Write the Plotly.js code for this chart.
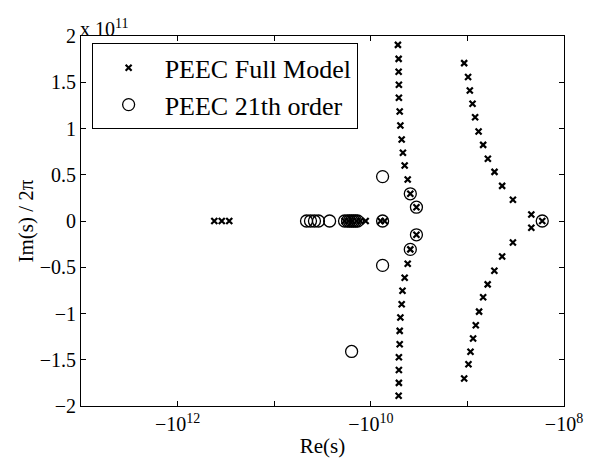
<!DOCTYPE html>
<html>
<head>
<meta charset="utf-8">
<script src="https://cdn.plot.ly/plotly-3.0.1.min.js"></script>
<style>html,body{margin:0;padding:0;background:#fff;}#chart{width:597px;height:459px;}</style>
</head>
<body>
<div id="chart"></div>
<script>
// PEEC full model poles: Re(s) and Im(s)/2π
const fullRe = [
  -4.17e11, -3.49e11, -2.92e11,
  -1.87e10, -1.70e10, -1.55e10, -1.40e10, -1.28e10, -1.13e10, -7.91e9, -7.19e9,
  -5.24e9, -5.15e9, -5.15e9, -5.12e9, -5.12e9, -5.02e9, -4.94e9, -4.79e9, -4.65e9, -4.46e9, -4.15e9, -3.90e9, -3.37e9,
  -3.37e9, -3.90e9, -4.15e9, -4.46e9, -4.70e9, -4.79e9, -4.94e9, -5.02e9, -5.02e9, -5.12e9, -5.12e9, -5.12e9, -5.15e9,
  -1.08e9, -9.84e8, -9.44e8, -8.85e8, -8.32e8, -7.66e8, -6.87e8, -6.14e8, -5.24e8, -4.37e8, -3.38e8, -2.18e8,
  -1.68e8,
  -2.18e8, -3.38e8, -4.37e8, -5.26e8, -6.17e8, -6.87e8, -7.57e8, -8.19e8, -8.73e8, -9.29e8, -9.75e8, -1.08e9
];
const fullIm = [
  0, 0, 0,
  0, 0, 0, 0, 0, 0, 0, 0,
  1.904e11, 1.753e11, 1.613e11, 1.473e11, 1.333e11, 1.184e11, 1.032e11, 0.881e11, 0.737e11, 0.599e11, 0.448e11, 0.294e11, 0.149e11,
  -0.149e11, -0.307e11, -0.463e11, -0.614e11, -0.755e11, -0.901e11, -1.044e11, -1.188e11, -1.332e11, -1.473e11, -1.610e11, -1.750e11, -1.889e11,
  1.707e11, 1.556e11, 1.411e11, 1.268e11, 1.122e11, 0.968e11, 0.823e11, 0.674e11, 0.531e11, 0.380e11, 0.229e11, 0.070e11,
  0,
  -0.073e11, -0.232e11, -0.383e11, -0.537e11, -0.685e11, -0.825e11, -0.980e11, -1.127e11, -1.270e11, -1.414e11, -1.548e11, -1.703e11
];
// PEEC 21th order reduced model poles
const redRe = [
  -4.63e10, -4.21e10, -3.83e10, -3.48e10, -2.67e10,
  -1.87e10, -1.74e10, -1.66e10, -1.58e10, -1.51e10, -1.44e10, -1.37e10,
  -7.55e9, -7.55e9, -7.55e9,
  -1.58e10,
  -3.90e9, -3.37e9, -3.37e9, -3.90e9,
  -1.68e8
];
const redIm = [
  0, 0, 0, 0, 0,
  0, 0, 0, 0, 0, 0, 0,
  0, 0.48e11, -0.48e11,
  -1.41e11,
  0.294e11, 0.149e11, -0.149e11, -0.307e11,
  0
];
const seriesNames = ['PEEC Full Model', 'PEEC 21th order'];
const xTickVals = [1e13, 1e12, 1e11, 1e10, 1e9, 1e8];
const xTickText = ['', '\u221210<sup>12</sup>', '', '\u221210<sup>10</sup>', '', '\u221210<sup>8</sup>'];
const yTickVals = [-2e11, -1.5e11, -1e11, -0.5e11, 0, 0.5e11, 1e11, 1.5e11, 2e11];
const yTickText = ['\u22122', '\u22121.5', '\u22121', '\u22120.5', '0', '0.5', '1', '1.5', '2'];

const neg = a => a.map(v => -v);
const font = 'Liberation Serif, Times New Roman, serif';

const traces = [
  {x: neg(fullRe), y: fullIm, name: seriesNames[0], type: 'scatter', mode: 'markers',
   marker: {symbol: 'x-thin-open', size: 6, color: '#000', line: {color: '#000', width: 2.2}}},
  {x: neg(redRe), y: redIm, name: seriesNames[1], type: 'scatter', mode: 'markers',
   marker: {symbol: 'circle-open', size: 12, color: '#000', line: {color: '#000', width: 1.3}}}
];

const layout = {
  width: 597, height: 459,
  margin: {l: 81, r: 33, t: 36, b: 53},
  paper_bgcolor: '#fff', plot_bgcolor: '#fff',
  font: {family: font, color: '#000', size: 20},
  showlegend: true,
  legend: {x: 0.022, y: 0.98, xanchor: 'left', yanchor: 'top',
    bgcolor: '#fff', bordercolor: '#000', borderwidth: 1,
    font: {family: font, size: 26, color: '#000'}, itemwidth: 62, tracegroupgap: 0},
  xaxis: {type: 'log', range: [13, 8], tickmode: 'array', tickvals: xTickVals, ticktext: xTickText,
    ticks: 'inside', ticklen: 5, tickcolor: '#000', showline: true, linecolor: '#000', linewidth: 1,
    mirror: 'ticks', showgrid: false, zeroline: false,
    tickfont: {family: font, size: 20},
    title: {text: 'Re(s)', font: {family: font, size: 21}, standoff: 4}},
  yaxis: {range: [-2e11, 2e11], tickmode: 'array', tickvals: yTickVals, ticktext: yTickText,
    ticks: 'inside', ticklen: 5, tickcolor: '#000', showline: true, linecolor: '#000', linewidth: 1,
    mirror: 'ticks', showgrid: false, zeroline: false,
    tickfont: {family: font, size: 20},
    title: {text: 'Im(s) / 2\u03c0', font: {family: font, size: 21}, standoff: 0}},
  annotations: [{xref: 'paper', yref: 'paper', x: 0, y: 1, xanchor: 'left', yanchor: 'bottom',
    text: 'x 10<sup>11</sup>', showarrow: false, font: {family: font, size: 20}, xshift: -3, yshift: -6}]
};

Plotly.newPlot('chart', traces, layout, {displayModeBar: false, staticPlot: true});
</script>
</body>
</html>
